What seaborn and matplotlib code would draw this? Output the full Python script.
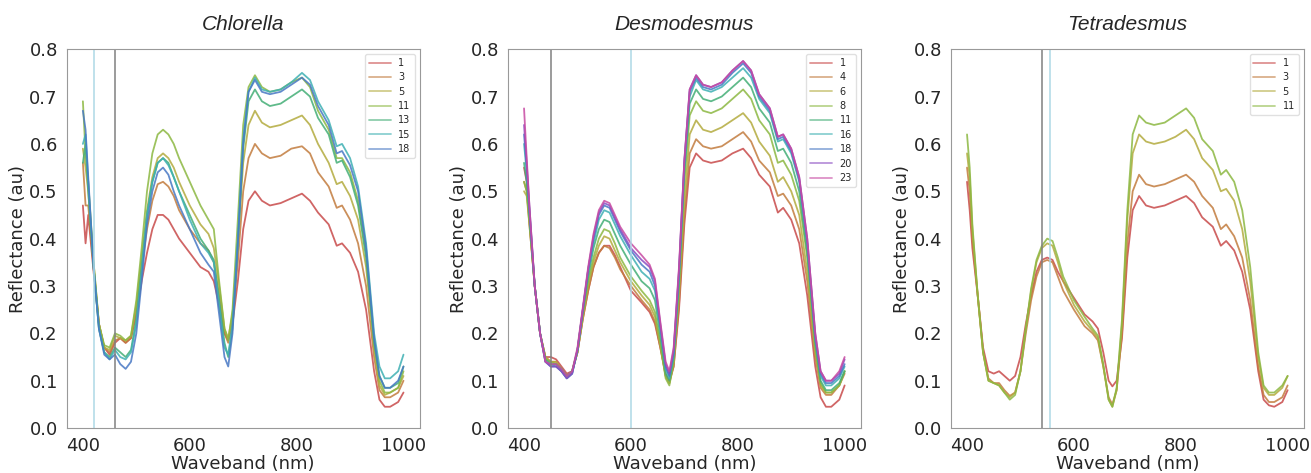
import numpy as np
import pandas as pd
import seaborn as sns
import matplotlib
matplotlib.use("Agg")
from matplotlib import pyplot as plt

# dalga boyu ekseni (nm)
wl = [400, 405, 410, 420, 430, 440, 450, 460, 470, 480, 490, 500, 510, 520, 530, 540, 550, 560, 570, 580,
      600, 620, 635, 645, 655, 665, 672, 680, 690, 700, 710, 722, 735, 750, 770, 790, 810, 825, 840, 860,
      875, 885, 900, 915, 930, 945, 955, 965, 975, 990, 1000]

# Chlorella
chl_days = ["1", "3", "5", "11", "13", "15", "18"]
chl_1 = [0.47, 0.39, 0.45, 0.33, 0.22, 0.17, 0.155, 0.18, 0.19, 0.18, 0.19, 0.24, 0.31, 0.37, 0.42, 0.45, 0.45, 0.44, 0.42, 0.40,
         0.37, 0.34, 0.33, 0.31, 0.26, 0.20, 0.185, 0.22, 0.31, 0.42, 0.48, 0.50, 0.48, 0.47, 0.475, 0.485, 0.495, 0.48, 0.455, 0.43,
         0.385, 0.39, 0.37, 0.33, 0.25, 0.12, 0.06, 0.045, 0.045, 0.055, 0.075]
chl_3 = [0.56, 0.47, 0.47, 0.34, 0.22, 0.17, 0.16, 0.185, 0.19, 0.18, 0.19, 0.25, 0.34, 0.42, 0.48, 0.515, 0.52, 0.51, 0.49, 0.46,
         0.42, 0.39, 0.375, 0.35, 0.28, 0.20, 0.18, 0.23, 0.35, 0.50, 0.57, 0.60, 0.58, 0.57, 0.575, 0.59, 0.595, 0.58, 0.54, 0.51,
         0.465, 0.47, 0.44, 0.39, 0.30, 0.15, 0.08, 0.065, 0.065, 0.075, 0.10]
chl_5 = [0.59, 0.55, 0.50, 0.35, 0.22, 0.17, 0.165, 0.195, 0.19, 0.185, 0.195, 0.26, 0.36, 0.46, 0.53, 0.57, 0.58, 0.57, 0.55, 0.52,
         0.47, 0.43, 0.41, 0.38, 0.30, 0.21, 0.19, 0.24, 0.39, 0.56, 0.64, 0.67, 0.645, 0.635, 0.64, 0.65, 0.66, 0.64, 0.60, 0.56,
         0.515, 0.52, 0.49, 0.44, 0.34, 0.17, 0.09, 0.07, 0.075, 0.085, 0.11]
chl_11 = [0.69, 0.58, 0.52, 0.35, 0.22, 0.175, 0.17, 0.20, 0.195, 0.185, 0.195, 0.27, 0.38, 0.50, 0.58, 0.62, 0.63, 0.62, 0.60, 0.57,
          0.52, 0.47, 0.44, 0.42, 0.31, 0.21, 0.185, 0.25, 0.44, 0.64, 0.72, 0.745, 0.72, 0.71, 0.715, 0.73, 0.74, 0.72, 0.67, 0.63,
          0.57, 0.57, 0.54, 0.48, 0.37, 0.18, 0.10, 0.075, 0.075, 0.085, 0.12]
chl_13 = [0.56, 0.60, 0.50, 0.34, 0.21, 0.16, 0.15, 0.17, 0.16, 0.15, 0.165, 0.23, 0.34, 0.45, 0.52, 0.56, 0.57, 0.56, 0.53, 0.50,
          0.45, 0.40, 0.375, 0.355, 0.27, 0.18, 0.15, 0.21, 0.39, 0.59, 0.69, 0.715, 0.69, 0.68, 0.685, 0.70, 0.715, 0.70, 0.655, 0.62,
          0.56, 0.565, 0.53, 0.47, 0.36, 0.18, 0.11, 0.085, 0.085, 0.095, 0.13]
chl_15 = [0.60, 0.62, 0.52, 0.34, 0.21, 0.16, 0.145, 0.165, 0.15, 0.145, 0.16, 0.22, 0.33, 0.45, 0.52, 0.56, 0.57, 0.555, 0.53, 0.50,
          0.44, 0.39, 0.37, 0.35, 0.26, 0.17, 0.155, 0.22, 0.40, 0.61, 0.71, 0.74, 0.715, 0.71, 0.715, 0.73, 0.75, 0.735, 0.69, 0.65,
          0.595, 0.60, 0.57, 0.51, 0.39, 0.20, 0.13, 0.105, 0.105, 0.12, 0.155]
chl_18 = [0.67, 0.63, 0.53, 0.34, 0.21, 0.155, 0.145, 0.155, 0.135, 0.125, 0.14, 0.20, 0.31, 0.43, 0.50, 0.54, 0.55, 0.535, 0.50, 0.47,
          0.42, 0.37, 0.345, 0.33, 0.24, 0.15, 0.13, 0.20, 0.39, 0.60, 0.71, 0.735, 0.71, 0.705, 0.71, 0.725, 0.74, 0.725, 0.68, 0.64,
          0.58, 0.585, 0.555, 0.50, 0.38, 0.19, 0.11, 0.085, 0.085, 0.10, 0.13]

# Desmodesmus
des_days = ["1", "4", "6", "8", "11", "16", "18", "20", "23"]
des_1 = [0.55, 0.52, 0.44, 0.30, 0.20, 0.15, 0.15, 0.145, 0.13, 0.115, 0.12, 0.16, 0.23, 0.29, 0.34, 0.37, 0.385, 0.385, 0.365, 0.34,
         0.29, 0.265, 0.245, 0.22, 0.17, 0.115, 0.10, 0.13, 0.25, 0.43, 0.55, 0.58, 0.565, 0.56, 0.565, 0.58, 0.59, 0.57, 0.535, 0.51,
         0.455, 0.465, 0.44, 0.39, 0.28, 0.13, 0.065, 0.045, 0.045, 0.06, 0.09]
des_4 = [0.52, 0.50, 0.43, 0.30, 0.20, 0.15, 0.14, 0.14, 0.125, 0.11, 0.12, 0.16, 0.23, 0.29, 0.34, 0.37, 0.385, 0.38, 0.36, 0.335,
         0.30, 0.27, 0.25, 0.225, 0.17, 0.11, 0.095, 0.13, 0.26, 0.45, 0.58, 0.61, 0.595, 0.59, 0.595, 0.61, 0.625, 0.605, 0.565, 0.54,
         0.49, 0.495, 0.47, 0.42, 0.31, 0.15, 0.085, 0.07, 0.07, 0.09, 0.115]
des_6 = [0.50, 0.49, 0.43, 0.30, 0.20, 0.15, 0.14, 0.14, 0.125, 0.11, 0.12, 0.16, 0.235, 0.30, 0.35, 0.385, 0.405, 0.40, 0.375, 0.35,
         0.31, 0.28, 0.26, 0.235, 0.175, 0.11, 0.095, 0.14, 0.28, 0.48, 0.62, 0.65, 0.63, 0.625, 0.635, 0.65, 0.665, 0.645, 0.605, 0.575,
         0.52, 0.53, 0.50, 0.45, 0.33, 0.16, 0.09, 0.075, 0.075, 0.09, 0.12]
des_8 = [0.52, 0.50, 0.44, 0.30, 0.20, 0.145, 0.14, 0.135, 0.125, 0.11, 0.12, 0.16, 0.24, 0.31, 0.36, 0.40, 0.42, 0.415, 0.39, 0.36,
         0.32, 0.29, 0.27, 0.245, 0.18, 0.105, 0.09, 0.14, 0.30, 0.52, 0.66, 0.69, 0.67, 0.665, 0.675, 0.695, 0.715, 0.695, 0.65, 0.62,
         0.56, 0.565, 0.535, 0.48, 0.36, 0.17, 0.095, 0.075, 0.075, 0.09, 0.12]
des_11 = [0.56, 0.52, 0.45, 0.30, 0.20, 0.145, 0.135, 0.135, 0.125, 0.11, 0.12, 0.165, 0.245, 0.32, 0.38, 0.42, 0.44, 0.435, 0.41, 0.385,
          0.345, 0.31, 0.295, 0.27, 0.195, 0.115, 0.10, 0.15, 0.31, 0.54, 0.685, 0.715, 0.695, 0.69, 0.70, 0.72, 0.74, 0.72, 0.675, 0.645,
          0.585, 0.59, 0.56, 0.50, 0.37, 0.18, 0.10, 0.08, 0.08, 0.095, 0.12]
des_16 = [0.60, 0.54, 0.46, 0.30, 0.20, 0.14, 0.135, 0.13, 0.12, 0.105, 0.115, 0.165, 0.25, 0.33, 0.39, 0.44, 0.46, 0.455, 0.43, 0.405,
          0.365, 0.33, 0.315, 0.29, 0.21, 0.125, 0.105, 0.155, 0.32, 0.55, 0.70, 0.735, 0.715, 0.71, 0.72, 0.74, 0.76, 0.74, 0.695, 0.665,
          0.605, 0.61, 0.58, 0.52, 0.39, 0.19, 0.11, 0.09, 0.09, 0.105, 0.13]
des_18 = [0.62, 0.55, 0.46, 0.30, 0.20, 0.14, 0.13, 0.13, 0.12, 0.105, 0.115, 0.165, 0.25, 0.335, 0.40, 0.45, 0.47, 0.465, 0.44, 0.415,
          0.375, 0.345, 0.33, 0.30, 0.215, 0.13, 0.11, 0.16, 0.33, 0.56, 0.71, 0.74, 0.72, 0.715, 0.725, 0.75, 0.77, 0.75, 0.70, 0.67,
          0.61, 0.615, 0.585, 0.525, 0.39, 0.19, 0.115, 0.095, 0.095, 0.11, 0.135]
des_20 = [0.64, 0.56, 0.47, 0.30, 0.20, 0.14, 0.13, 0.13, 0.12, 0.105, 0.115, 0.165, 0.25, 0.335, 0.405, 0.455, 0.475, 0.47, 0.445, 0.42,
          0.38, 0.355, 0.34, 0.31, 0.22, 0.135, 0.115, 0.165, 0.335, 0.565, 0.715, 0.745, 0.725, 0.72, 0.73, 0.755, 0.775, 0.755, 0.705, 0.675,
          0.615, 0.62, 0.59, 0.53, 0.40, 0.20, 0.12, 0.10, 0.10, 0.115, 0.145]
des_23 = [0.675, 0.57, 0.47, 0.30, 0.20, 0.14, 0.135, 0.135, 0.125, 0.11, 0.12, 0.17, 0.255, 0.34, 0.41, 0.46, 0.48, 0.475, 0.45, 0.425,
          0.39, 0.365, 0.345, 0.315, 0.225, 0.14, 0.12, 0.17, 0.34, 0.565, 0.715, 0.745, 0.725, 0.72, 0.73, 0.755, 0.775, 0.755, 0.705, 0.675,
          0.615, 0.62, 0.59, 0.53, 0.40, 0.20, 0.12, 0.10, 0.10, 0.12, 0.15]

# Tetradesmus
tet_days = ["1", "3", "5", "11"]
tet_1 = [0.52, 0.46, 0.38, 0.28, 0.17, 0.12, 0.115, 0.12, 0.11, 0.10, 0.11, 0.15, 0.22, 0.28, 0.33, 0.355, 0.36, 0.355, 0.33, 0.31,
         0.275, 0.24, 0.225, 0.21, 0.16, 0.10, 0.088, 0.10, 0.19, 0.36, 0.46, 0.49, 0.47, 0.465, 0.47, 0.48, 0.49, 0.475, 0.445, 0.425,
         0.385, 0.395, 0.375, 0.33, 0.25, 0.12, 0.06, 0.048, 0.045, 0.055, 0.08]
tet_3 = [0.55, 0.50, 0.40, 0.28, 0.16, 0.105, 0.095, 0.095, 0.08, 0.068, 0.075, 0.12, 0.20, 0.27, 0.32, 0.35, 0.355, 0.35, 0.32, 0.29,
         0.25, 0.215, 0.20, 0.185, 0.13, 0.065, 0.05, 0.08, 0.20, 0.39, 0.50, 0.535, 0.515, 0.51, 0.515, 0.525, 0.535, 0.52, 0.49, 0.465,
         0.42, 0.43, 0.405, 0.36, 0.27, 0.13, 0.07, 0.055, 0.055, 0.065, 0.09]
tet_5 = [0.58, 0.53, 0.42, 0.28, 0.16, 0.10, 0.095, 0.09, 0.075, 0.065, 0.075, 0.12, 0.21, 0.29, 0.35, 0.38, 0.39, 0.385, 0.35, 0.31,
         0.26, 0.225, 0.205, 0.19, 0.13, 0.06, 0.045, 0.08, 0.22, 0.44, 0.58, 0.62, 0.605, 0.60, 0.605, 0.615, 0.63, 0.61, 0.57, 0.545,
         0.50, 0.505, 0.48, 0.42, 0.31, 0.15, 0.085, 0.07, 0.07, 0.085, 0.11]
tet_11 = [0.62, 0.55, 0.43, 0.28, 0.16, 0.10, 0.095, 0.09, 0.075, 0.06, 0.07, 0.12, 0.21, 0.295, 0.355, 0.385, 0.40, 0.395, 0.36, 0.32,
          0.27, 0.235, 0.21, 0.195, 0.135, 0.06, 0.045, 0.085, 0.23, 0.46, 0.62, 0.66, 0.645, 0.64, 0.645, 0.66, 0.675, 0.655, 0.61, 0.585,
          0.535, 0.545, 0.52, 0.46, 0.34, 0.16, 0.09, 0.075, 0.075, 0.09, 0.11]

panels = [
    ("Chlorella", chl_days, [chl_1, chl_3, chl_5, chl_11, chl_13, chl_15, chl_18], (460, 420)),
    ("Desmodesmus", des_days, [des_1, des_4, des_6, des_8, des_11, des_16, des_18, des_20, des_23], (450, 600)),
    ("Tetradesmus", tet_days, [tet_1, tet_3, tet_5, tet_11], (540, 555)),
]

sns.set_style("white")
plt.rcParams["font.family"] = ["DejaVu Sans"]
plt.rcParams["axes.edgecolor"] = "0.6"

# ortak renk paleti (gün sırasına göre)
pal = sns.color_palette(["#c84a4a", "#c27c3e", "#b3ab3e", "#8cb842", "#43ae76", "#3eb0b3",
                         "#4878c4", "#8a4cc2", "#c74aa2"])

fig = plt.figure(figsize=(13.11, 4.73), dpi=100)
lefts = [0.051, 0.3875, 0.7254]
for (name, days, series, (gline, bline)), left in zip(panels, lefts):
    ax = fig.add_axes([left, 0.095, 0.269, 0.801])
    rows = []
    for d, vals in zip(days, series):
        rows.append(pd.DataFrame({"Waveband": wl, "Reflectance": vals, "day": d}))
    long = pd.concat(rows, ignore_index=True)
    sns.lineplot(data=long, x="Waveband", y="Reflectance", hue="day", hue_order=days,
                 palette=pal[:len(days)], estimator=None, lw=1.3, alpha=0.85, ax=ax)
    ax.axvline(gline, color="grey", lw=1.1)
    ax.axvline(bline, color="lightblue", lw=1.1)
    ax.set_ylim(0, 0.8)
    ax.set_xticks([400, 600, 800, 1000])
    ax.set_yticks(np.arange(0, 0.81, 0.1))
    ax.set_yticklabels([f"{v:.1f}" for v in np.arange(0, 0.81, 0.1)])
    ax.tick_params(labelsize=13, colors="0.15", length=3)
    ax.set_xlabel("Waveband (nm)", fontsize=13, labelpad=0)
    ax.set_ylabel("Reflectance (au)", fontsize=13, labelpad=2)
    ax.set_title(name, fontsize=15, style="italic", family="Liberation Sans", pad=14)
    leg = ax.legend(loc="upper right", fontsize=7, handlelength=2.2, labelspacing=0.45, title=None)
    leg.get_frame().set_edgecolor("0.85")
    for h in leg.get_lines():
        h.set_alpha(0.6)

fig.savefig("out.png", dpi=100)
